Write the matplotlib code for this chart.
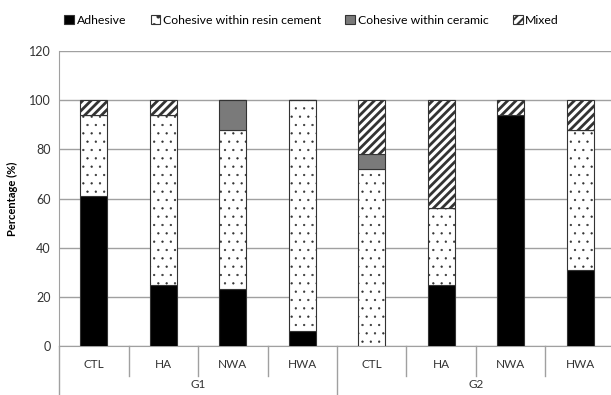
import matplotlib
matplotlib.use("Agg")
import matplotlib.pyplot as plt
from matplotlib.lines import Line2D
import numpy as np

categories = ["CTL", "HA", "NWA", "HWA", "CTL", "HA", "NWA", "HWA"]
groups = ["G1", "G2"]
adhesive = [61, 25, 23, 6, 0, 25, 94, 31]
resin = [33, 69, 65, 94, 72, 31, 0, 57]
ceramic = [0, 0, 12, 0, 6, 0, 0, 0]
mixed = [6, 6, 0, 0, 22, 44, 6, 12]
series_names = ["Adhesive", "Cohesive within resin cement", "Cohesive within ceramic", "Mixed"]
yticks = [0, 20, 40, 60, 80, 100, 120]

plt.rcParams['font.family'] = ['Lato', 'DejaVu Sans']

fig = plt.figure(figsize=(6.11, 3.95), dpi=100)
ax = fig.add_axes([59/611, 1-346/395, 556/611, 295/395])

x = np.arange(len(categories))
w = 0.39
edge = '#333333'
bottom = np.zeros(len(categories))
styles = [
    dict(color='black', hatch=None, hlw=1.0),
    dict(color='white', hatch='..', hlw=0.4),
    dict(color='#7a7a7a', hatch=None, hlw=1.0),
    dict(color='white', hatch='////', hlw=2.0),
]
handles = []
for vals, st, name in zip([adhesive, resin, ceramic, mixed], styles, series_names):
    vals = np.array(vals, dtype=float)
    plt.rcParams['hatch.linewidth'] = st['hlw']
    b = ax.bar(x, vals, w, bottom=bottom, color=st['color'], edgecolor=edge,
               linewidth=0.8, hatch=st['hatch'], label=name, zorder=3)
    for p in b:
        try:
            p.set_hatch_linewidth(st['hlw'])
        except Exception:
            pass
    handles.append(b)
    bottom += vals

ax.set_xlim(-0.5, 7.5)
ax.set_ylim(0, 120)
ax.set_yticks(yticks)
ax.set_yticklabels([str(t) for t in yticks], fontsize=9, color='#333333')
ax.yaxis.grid(True, color='#a0a0a0', linewidth=1.0, zorder=0)
ax.set_axisbelow(True)
for s in ['top', 'right']:
    ax.spines[s].set_visible(False)
ax.spines['left'].set_color('#a0a0a0')
ax.spines['bottom'].set_color('#a0a0a0')
ax.tick_params(axis='y', length=0, pad=6)
ax.set_xticks(x)
ax.set_xticklabels(categories, fontsize=8.5, color='#333333')
ax.tick_params(axis='x', length=0, pad=9)
ax.set_ylabel("Percentage (%)", fontsize=8, fontweight='bold', labelpad=8)

# separators
tr = ax.get_xaxis_transform()
for s in [0.5, 1.5, 2.5, 4.5, 5.5, 6.5]:
    ax.add_line(Line2D([s, s], [0, -30/295], transform=tr, color='#a0a0a0', lw=1.0, clip_on=False))
for s in [-0.5, 3.5]:
    ax.add_line(Line2D([s, s], [0, -60/295], transform=tr, color='#a0a0a0', lw=1.0, clip_on=False))
for gi, g in enumerate(groups):
    ax.text(1.5 + 4*gi, -38/295, g, transform=tr, ha='center', va='center', fontsize=8.5, color='#333333')

plt.rcParams['hatch.linewidth'] = 1.5
fig.legend(handles=handles, labels=series_names, loc='center', bbox_to_anchor=(0.51, 1-20/395),
           ncol=4, frameon=False, fontsize=8.8, handlelength=0.8, handleheight=0.8,
           handletextpad=0.2, columnspacing=2.0)

fig.savefig("out.png", dpi=100)
